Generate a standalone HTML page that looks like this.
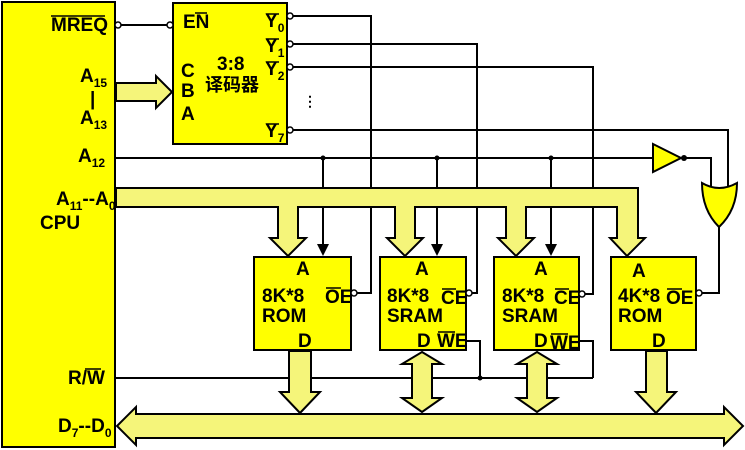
<!DOCTYPE html>
<html><head><meta charset="utf-8"><style>
html,body{margin:0;padding:0;background:#fff;}
svg{display:block}
text{font-family:"Liberation Sans","Noto Sans CJK SC",sans-serif;font-weight:bold;fill:#000;font-size:19px;}
tspan.s{font-size:12px;}
text.m{font-size:18px;}
</style></head><body>
<svg width="745" height="450" viewBox="0 0 745 450" xmlns="http://www.w3.org/2000/svg">
<g stroke="#000" stroke-width="2" fill="none">
<rect x="2" y="2" width="113" height="445" fill="#ffff00"/>
<rect x="173" y="3" width="114" height="141" fill="#ffff00"/>
<polygon points="116,83 156,83 156,76 172,92 156,108 156,101 116,101" fill="#f5f57a"/>
<line x1="120" y1="25" x2="167" y2="25"/>
<polyline points="292,16 371,16 371,293 354,293"/>
<polyline points="292,44 477,44 477,293 469,293"/>
<polyline points="292,67 593,67 593,294 582,294"/>
<polyline points="292,130 728,130 728,190"/>
<line x1="115" y1="158" x2="653" y2="158"/>
<line x1="323" y1="158" x2="323" y2="245"/>
<line x1="437" y1="158" x2="437" y2="245"/>
<line x1="551" y1="158" x2="551" y2="245"/>
<polyline points="684,158 711,158 711,190"/>
<polygon points="653,144 681,158 653,172" fill="#ffff00"/>
<path d="M702,183 Q719,193 737,183 Q737,210 719,227 Q702,210 702,183 Z" fill="#ffff00"/>
<polyline points="719,227 719,293 702,293"/>
<path d="M116,188 L638,188 L638,238 L645,238 L627,256 L610,238 L617,238 L617,207 L526,207 L526,238 L534,238 L516,256 L498,238 L506,238 L506,207 L415,207 L415,238 L423,238 L405,256 L387,238 L395,238 L395,207 L298,207 L298,238 L306,238 L288,256 L270,238 L278,238 L278,207 L116,207 Z" fill="#f5f57a"/>
<rect x="254" y="257" width="97" height="93" fill="#ffff00"/>
<rect x="380" y="257" width="86" height="93" fill="#ffff00"/>
<rect x="494" y="257" width="85" height="93" fill="#ffff00"/>
<rect x="611" y="257" width="85" height="93" fill="#ffff00"/>
<line x1="115" y1="378" x2="593" y2="378"/>
<polyline points="466,341 480,341 480,378"/>
<polyline points="579,341 593,341 593,378"/>
<polygon points="117,426 136,407 136,414 724,414 724,407 743,426 724,445 724,438 136,438 136,445" fill="#f5f57a"/>
<polygon points="289,351 311,351 311,392 320,392 300,413 280,392 289,392" fill="#f5f57a"/>
<polygon points="646,351 667,351 667,392 676,392 656,413 636,392 646,392" fill="#f5f57a"/>
<polygon points="422,352 442,364 432,364 432,398 442,398 422,412 402,398 412,398 412,364 402,364" fill="#f5f57a"/>
<polygon points="537,352 557,364 547,364 547,398 557,398 537,412 517,398 527,398 527,364 517,364" fill="#f5f57a"/>
</g>
<g fill="#000">
<polygon points="317,244 329,244 323,256"/>
<polygon points="431,244 443,244 437,256"/>
<polygon points="545,244 557,244 551,256"/>
<circle cx="323" cy="158" r="2.5"/><circle cx="437" cy="158" r="2.5"/><circle cx="551" cy="158" r="2.5"/>
<circle cx="684" cy="158" r="3"/>
<circle cx="480" cy="378" r="2.5"/>
</g>
<g fill="#fff" stroke="#000" stroke-width="1.5">
<circle cx="118" cy="25" r="3"/><circle cx="170" cy="25" r="3"/>
<circle cx="290" cy="16" r="3"/><circle cx="290" cy="44" r="3"/><circle cx="290" cy="67" r="3"/><circle cx="290" cy="130" r="3"/>
<circle cx="354" cy="293" r="3"/><circle cx="469" cy="293" r="3"/><circle cx="582" cy="294" r="3"/><circle cx="699" cy="293" r="3"/>
</g>
<text x="51" y="31">MREQ</text>
<text x="80" y="82">A<tspan class="s" dy="5">15</tspan></text>
<text x="90" y="105">|</text>
<text x="80" y="124">A<tspan class="s" dy="5">13</tspan></text>
<text x="78" y="162">A<tspan class="s" dy="5">12</tspan></text>
<text x="56" y="205">A<tspan class="s" dy="5">11</tspan><tspan dy="-5">--A</tspan><tspan class="s" dy="5">0</tspan></text>
<text x="40" y="229">CPU</text>
<text x="68" y="384">R/W</text>
<text x="58" y="432">D<tspan class="s" dy="5">7</tspan><tspan dy="-5">--D</tspan><tspan class="s" dy="5">0</tspan></text>
<text x="183" y="28">EN</text>
<text x="181" y="77">C</text>
<text x="181" y="97">B</text>
<text x="181" y="120">A</text>
<text x="217" y="70">3:8</text>
<text class="m" x="205" y="91">译码器</text>
<text x="265" y="27">Y<tspan class="s" dy="5">0</tspan></text>
<text x="265" y="52">Y<tspan class="s" dy="5">1</tspan></text>
<text x="265" y="75">Y<tspan class="s" dy="5">2</tspan></text>
<text x="265" y="137">Y<tspan class="s" dy="5">7</tspan></text>
<text x="303" y="106" style="font-size:14px">⋮</text>
<text x="296" y="275">A</text>
<text x="262" y="302">8K*8</text>
<text x="262" y="322">ROM</text>
<text x="298" y="347">D</text>
<text x="325" y="303">OE</text>
<text x="415" y="275">A</text>
<text x="387" y="302">8K*8</text>
<text x="387" y="322">SRAM</text>
<text x="417" y="347">D</text>
<text x="441" y="304">CE</text>
<text x="437" y="347">WE</text>
<text x="534" y="275">A</text>
<text x="502" y="302">8K*8</text>
<text x="502" y="322">SRAM</text>
<text x="534" y="347">D</text>
<text x="554" y="304">CE</text>
<text x="550" y="349">WE</text>
<text x="632" y="277">A</text>
<text x="618" y="302">4K*8</text>
<text x="618" y="322">ROM</text>
<text x="652" y="347">D</text>
<text x="666" y="304">OE</text>
<g stroke="#000" stroke-width="1.5">
<line x1="51" y1="16" x2="105" y2="16"/>
<line x1="195" y1="13" x2="207" y2="13"/>
<line x1="85" y1="369" x2="101" y2="369"/>
<line x1="266" y1="14" x2="279" y2="14"/>
<line x1="266" y1="39" x2="279" y2="39"/>
<line x1="266" y1="62" x2="279" y2="62"/>
<line x1="266" y1="124" x2="279" y2="124"/>
<line x1="326" y1="288" x2="341" y2="288"/>
<line x1="442" y1="289" x2="456" y2="289"/>
<line x1="555" y1="289" x2="569" y2="289"/>
<line x1="667" y1="289" x2="682" y2="289"/>
<line x1="438" y1="332" x2="455" y2="332"/>
<line x1="551" y1="334" x2="568" y2="334"/>
</g>
</svg>
</body></html>
